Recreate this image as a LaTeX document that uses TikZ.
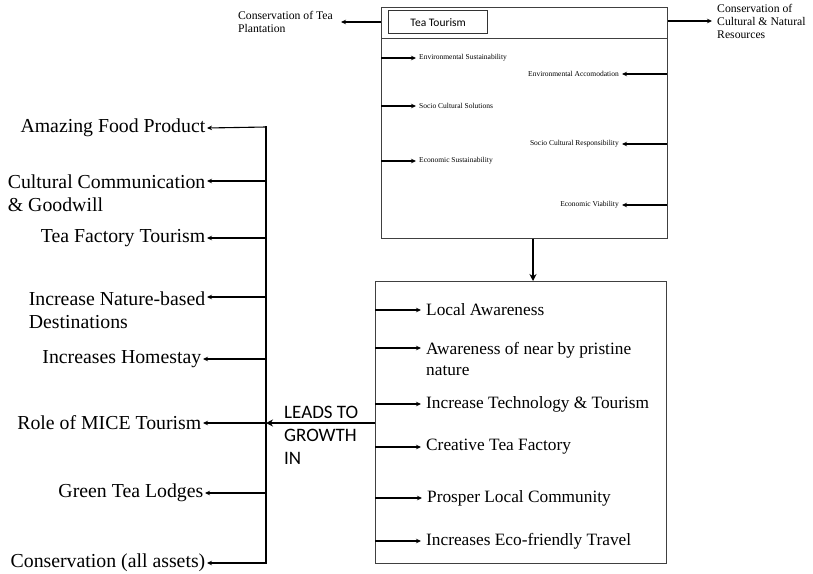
\documentclass[tikz,border=0pt]{standalone}
\usepackage{fontspec}
\setmainfont{Liberation Serif}
\newfontfamily\calibri{Carlito}
\usetikzlibrary{arrows.meta,positioning}

\tikzset{
  box/.style={draw=black!75, line width=0.9pt, inner sep=0pt},
  arr/.style={line width=1.1pt, -{Stealth[length=5pt,width=4.5pt]}},
  bigarr/.style={line width=2.2pt, -{Stealth[length=7pt,width=7pt]}},
  smalltxt/.style={font=\fontsize{7.5}{9}\selectfont, inner sep=3pt},
  toptxt/.style={font=\fontsize{11.7}{13}\selectfont, align=left, inner sep=3pt},
  lefttxt/.style={font=\fontsize{19.8}{23}\selectfont, align=left, anchor=east, inner sep=1.5pt},
  midtxt/.style={font=\fontsize{17.3}{21}\selectfont, align=left, anchor=west, inner sep=5pt}
}

\begin{document}
\begin{tikzpicture}[x=1pt,y=-1pt]
\useasboundingbox (0,0) rectangle (813,573);

% upper box
\node[box, anchor=north west, minimum width=286pt, minimum height=231pt] (topbox) at (381,7) {};
\draw[draw=black!75, line width=0.9pt] (381,38) -- (667,38);
\node[draw=black!80, line width=1.4pt, anchor=north west, minimum width=99pt, minimum height=23pt,
      font=\calibri\fontsize{11.5}{13}\selectfont] (tea) at (388,10) {Tea Tourism};

\node[toptxt, anchor=east] (plant) at (336,22) {Conservation of Tea\\Plantation};
\node[toptxt, anchor=west] (res) at (714,21) {Conservation of\\Cultural \& Natural\\Resources};
\draw[arr] (topbox.west |- plant.east) -- ([xshift=5pt]plant.east);
\draw[arr] (topbox.east |- res.west) -- ([xshift=-2pt]res.west);

\coordinate (l1) at (381,58);
\coordinate (l2) at (381,106);
\coordinate (l3) at (381,161);
\coordinate (r1) at (667,74);
\coordinate (r2) at (667,144);
\coordinate (r3) at (667,205);
\node[smalltxt, anchor=west] (envs) at (416,58) {Environmental Sustainability};
\node[smalltxt, anchor=west] (socs) at (416,106) {Socio Cultural Solutions};
\node[smalltxt, anchor=west] (ecos) at (416,161) {Economic Sustainability};
\node[smalltxt, anchor=east] (enva) at (622,74) {Environmental Accomodation};
\node[smalltxt, anchor=east] (socr) at (622,144) {Socio Cultural Responsibility};
\node[smalltxt, anchor=east] (ecov) at (622,205) {Economic Viability};
\draw[arr] (l1) -- (envs.west);
\draw[arr] (l2) -- (socs.west);
\draw[arr] (l3) -- (ecos.west);
\draw[arr] (r1) -- (enva.east);
\draw[arr] (r2) -- (socr.east);
\draw[arr] (r3) -- (ecov.east);

% lower box
\node[box, anchor=north west, minimum width=291pt, minimum height=282pt] (botbox) at (375,281) {};
\coordinate (dn) at (533,0);
\draw[bigarr] (topbox.south -| dn) -- (botbox.north -| dn);

\coordinate (b1) at (375,310);
\coordinate (b2) at (375,348);
\coordinate (b3) at (375,404);
\coordinate (b4) at (375,447);
\coordinate (b5) at (375,498);
\coordinate (b6) at (375,541);
\node[midtxt] (local) at (421,310) {Local Awareness};
\node[midtxt] (near) at (421,359) {Awareness of near by pristine\\nature};
\node[midtxt] (tech) at (421,404) {Increase Technology \& Tourism};
\node[midtxt] (fact) at (421,447) {Creative Tea Factory};
\node[midtxt] (comm) at (422,498) {Prosper Local Community};
\node[midtxt] (eco) at (421,541) {Increases Eco-friendly Travel};
\draw[arr] (b1) -- (local.west);
\draw[arr] (b2) -- (near.west |- b2);
\draw[arr] (b3) -- (tech.west);
\draw[arr] (b4) -- (fact.west);
\draw[arr] (b5) -- (comm.west);
\draw[arr] (b6) -- (eco.west);

% left side
\coordinate (t1) at (266,127);
\coordinate (t2) at (266,181);
\coordinate (t3) at (266,238);
\coordinate (t4) at (266,297);
\coordinate (t5) at (266,359);
\coordinate (t6) at (266,423);
\coordinate (t7) at (266,493);
\coordinate (t8) at (266,563);
\draw[line width=2.2pt] ([yshift=1pt]t1) -- ([yshift=-1pt]t8);
\draw[bigarr] (botbox.west |- t6) -- (t6);
\node[font=\calibri\fontsize{19}{23}\selectfont, align=left, anchor=west, inner sep=1pt] (leads) at (283,435) {LEADS TO\\GROWTH\\IN};

\node[lefttxt] (food) at (207,128) {Amazing Food Product};
\node[lefttxt] (cult) at (207,193) {Cultural Communication\\\& Goodwill};
\node[lefttxt] (fact2) at (207,238) {Tea Factory Tourism};
\node[lefttxt] (nat) at (207,310) {Increase Nature-based\\Destinations};
\node[lefttxt] (home) at (203,359) {Increases Homestay};
\node[lefttxt] (mice) at (203,423) {Role of MICE Tourism};
\node[lefttxt] (lodge) at (205,493) {Green Tea Lodges};
\node[lefttxt] (cons) at (207,563) {Conservation (all assets)};
\draw[arr] (t1) -- (food.east);
\draw[arr] (t2) -- (cult.east |- t2);
\draw[arr] (t3) -- (fact2.east);
\draw[arr] (t4) -- (nat.east |- t4);
\draw[arr] (t5) -- (home.east);
\draw[arr] (t6) -- (mice.east);
\draw[arr] (t7) -- (lodge.east);
\draw[arr] (t8) -- (cons.east);
\end{tikzpicture}
\end{document}
